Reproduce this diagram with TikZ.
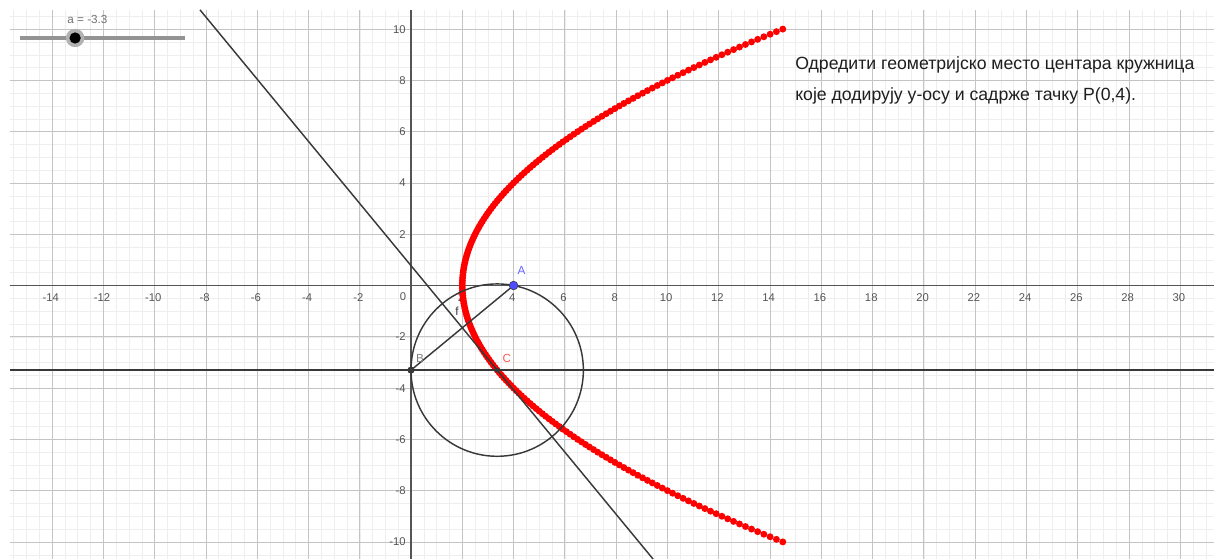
\documentclass[tikz,border=0pt]{standalone}
\usepackage{fontspec}
\setmainfont{Liberation Sans}
\definecolor{minorc}{HTML}{EEEEEE}
\definecolor{majorc}{HTML}{C4C4C4}
\definecolor{axisc}{HTML}{555555}
\definecolor{geoc}{HTML}{383838}
\definecolor{ptA}{HTML}{4D4DFF}
\definecolor{labA}{HTML}{6666FF}
\definecolor{labC}{HTML}{FF5A5A}
\definecolor{txtc}{HTML}{1E1E1E}
\tikzset{
  minorgrid/.style={draw=minorc,line width=0.5pt},
  majorgrid/.style={draw=majorc,line width=0.8pt},
  axisline/.style={draw=axisc,line width=1.6pt},
  geo/.style={draw=geoc,line width=1.6pt},
  ticklab/.style={text=axisc,font=\fontsize{12.5}{14}\selectfont,inner sep=0pt,text height=9pt,text depth=0pt},
  ptlab/.style={font=\fontsize{13}{15}\selectfont,inner sep=0pt},
  locusdot/.style={fill=red}
}
\begin{document}
\begin{tikzpicture}[x=1cm,y=1cm]
\useasboundingbox (-16.03,-10.667) rectangle (31.513,11.135);
\fill[white] (-16.03,-10.667) rectangle (31.513,11.135);
% grid
\draw[minorgrid,step=0.5] (-15.64,-10.667) grid (31.32,10.75);
\draw[majorgrid,step=2] (-15.64,-10.667) grid (31.32,10.75);
% axes
\draw[axisline] (-15.64,0) -- (31.32,0);
\draw[axisline] (0,-10.667) -- (0,10.75);
% tick labels
\foreach \t in {-14,-12,...,-2,2,4,...,30} {
  \node[ticklab] at (\t-0.05,-0.45) {\t};
}
\foreach \t in {-10,-8,...,-2,2,4,...,10} {
  \node[ticklab,anchor=east] at (-0.2,\t) {\t};
}
\node[ticklab] at (-0.31,-0.42) {0};
% slider
\draw[draw=gray!85,line width=3.5pt] (-15.25,9.653) -- (-8.814,9.653);
\fill[gray!60] (-13.10,9.653) circle (0.36);
\fill[black] (-13.10,9.653) circle (0.22);
\node[ticklab,text=gray!90!black,font=\fontsize{13}{15}\selectfont] at (-12.62,10.36) {a = -3.3};
% locus (parabola)
\foreach \i in {-100,...,100} {
  \pgfmathsetmacro\yy{\i/10}
  \fill[locusdot] ({\yy*\yy/8+2},\yy) circle (0.135);
}
% constructions
\coordinate (A) at (4,0);
\coordinate (B) at (0,-3.3);
\coordinate (C) at (3.36125,-3.3);
\coordinate (Ltop) at (-8.23,10.75);
\coordinate (Lbot) at (9.439,-10.667);
\coordinate (Hl) at (-15.64,-3.3);
\coordinate (Hr) at (31.32,-3.3);
\draw[geo] (Hl) -- (Hr);
\draw[geo] (Ltop) -- (Lbot);
\draw[geo] (C) circle (3.36125);
\draw[geo] (A) -- (B);
\fill[ptA,draw=geoc,line width=0.6pt] (A) circle (0.17);
\fill[geoc] (B) circle (0.14);
\fill[geoc] (C) circle (0.1);
\node[ptlab,text=labA] at (4.31,0.57) {A};
\node[ptlab,text=gray] at (0.35,-2.83) {B};
\node[ptlab,text=labC] at (3.74,-2.83) {C};
\node[ptlab,text=geoc] at (1.79,-0.99) {f};
% statement
\node[anchor=west,text=txtc,font=\fontsize{19.6}{33.5}\selectfont,align=left,inner sep=0pt] (txt) at (14.98,8.0)
  {Одредити геометријско место центара кружница\\које додирују y-осу и садрже тачку P(0,4).};
\end{tikzpicture}
\end{document}
